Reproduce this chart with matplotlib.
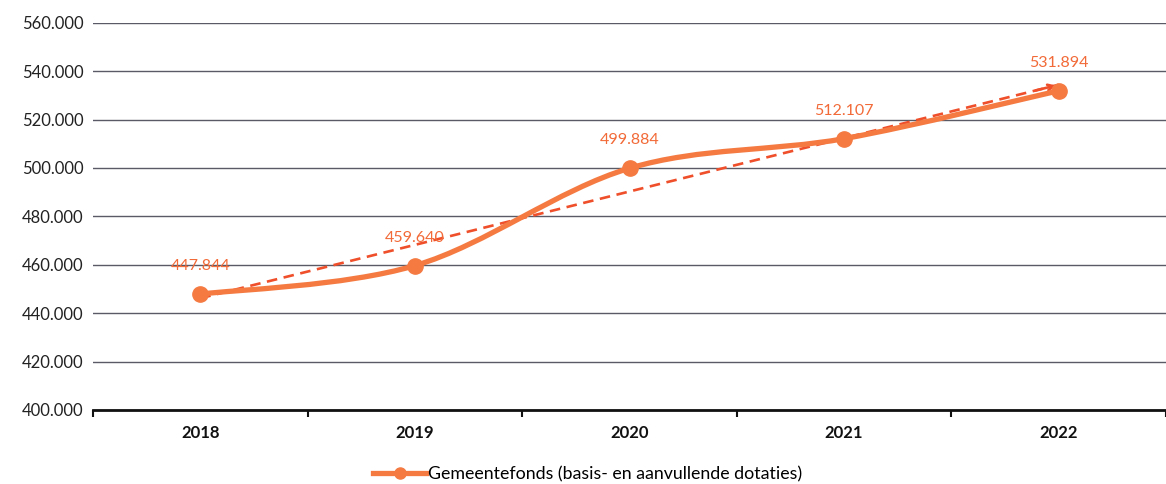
import numpy as np
import matplotlib.pyplot as plt
from matplotlib.path import Path
from matplotlib.patches import PathPatch
from matplotlib.lines import Line2D
from matplotlib.ticker import FuncFormatter

# Data (bedragen x 1.000 euro)
years = ["2018", "2019", "2020", "2021", "2022"]
values = [447844, 459640, 499884, 512107, 531894]
series_name = "Gemeentefonds (basis- en aanvullende dotaties)"

line_color = "#f47a42"
trend_color = "#ef4f2a"
label_color = "#f26a38"

plt.rcParams["font.family"] = ["Lato", "DejaVu Sans"]

fig = plt.figure(figsize=(11.66, 4.84), dpi=100)
ax = fig.add_axes([0.0798, 0.153, 0.9202, 0.8])

x = np.arange(len(years))
y = np.array(values, dtype=float)

# smoothed line (Catmull-Rom as cubic bezier, like Excel's smoothed line)
pts = np.column_stack([x, y])
padded = np.vstack([pts[0], pts, pts[-1]])
verts = [tuple(pts[0])]
codes = [Path.MOVETO]
for i in range(len(pts) - 1):
    p0, p1, p2, p3 = padded[i], padded[i + 1], padded[i + 2], padded[i + 3]
    c1 = p1 + (p2 - p0) / 6
    c2 = p2 - (p3 - p1) / 6
    verts += [tuple(c1), tuple(c2), tuple(p2)]
    codes += [Path.CURVE4] * 3
ax.add_patch(PathPatch(Path(verts, codes), facecolor="none", edgecolor=line_color,
                       lw=3.8, capstyle="round", zorder=3))
ax.plot(x, y, "o", color=line_color, markersize=11, zorder=4)

# linear trend line with arrow
slope, intercept = np.polyfit(x, y, 1)
trend = slope * x + intercept
ax.plot(x, trend, "--", color=trend_color, lw=1.9, dashes=(4, 2.5), zorder=2)
ax.annotate("", xy=(x[-1], trend[-1]), xytext=(x[-1] - 0.12, trend[-1] - slope * 0.12),
            arrowprops=dict(arrowstyle="->", color=trend_color, lw=1.9), zorder=2)

# data labels
for xi, v in zip(x, values):
    ax.annotate(f"{v:,}".replace(",", "."), (xi, v), xytext=(0, 20),
                textcoords="offset points", ha="center", va="center",
                fontsize=11.5, color=label_color, zorder=5)

ax.set_xlim(-0.5, len(years) - 0.5)
ax.set_ylim(400000, 560000)
ax.set_yticks(np.arange(400000, 560001, 20000))
ax.yaxis.set_major_formatter(FuncFormatter(lambda v, p: f"{int(v):,}".replace(",", ".")))
ax.set_xticks(x)
ax.set_xticklabels(years, fontweight="bold", fontsize=12, color="#111111")
ax.set_xticks(np.arange(-0.5, len(years), 1.0), minor=True)
ax.tick_params(axis="x", which="major", length=0, pad=11)
ax.tick_params(axis="x", which="minor", length=5, width=1.5, color="#111111")
ax.tick_params(axis="y", length=0, pad=7, labelsize=12, labelcolor="#222222")

ax.grid(axis="y", color="#5a5a66", lw=1.0)
ax.set_axisbelow(True)
for s in ["left", "right", "top"]:
    ax.spines[s].set_visible(False)
ax.spines["bottom"].set_linewidth(2)
ax.spines["bottom"].set_color("#111111")

handle = Line2D([], [], color=line_color, lw=3.8, marker="o", markersize=8)
fig.legend([handle], [series_name], loc="center", bbox_to_anchor=(0.504, 0.02),
           frameon=False, fontsize=12.8, handlelength=3, handletextpad=0.1)

fig.savefig("out.png", dpi=100)
